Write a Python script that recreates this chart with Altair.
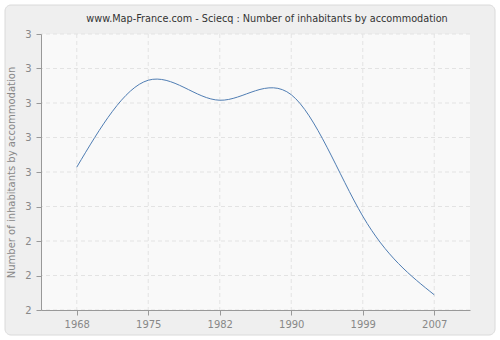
import altair as alt
import pandas as pd

years = ["1968", "1975", "1982", "1990", "1999", "2007"]
values = [2.557, 2.683, 2.654, 2.662, 2.486, 2.372]
y_ticks = [2.35, 2.40, 2.45, 2.50, 2.55, 2.60, 2.65, 2.70, 2.75]

title_text = "www.Map-France.com - Sciecq : Number of inhabitants by accommodation"
y_title = "Number of inhabitants by accommodation"

df = pd.DataFrame({"year": years, "value": values})
ticks_df = pd.DataFrame({"value": y_ticks})
years_df = pd.DataFrame({"year": years})
one = pd.DataFrame({"a": [0]})

W, H = 429, 276
FONT = "DejaVu Sans"
xscale = alt.Scale(type="point", padding=0.5, domain=years)
yscale = alt.Scale(domain=[2.35, 2.75], zero=False, nice=False)

axis_common = dict(
    domainColor="#999999", tickColor="#999999", tickSize=5,
    labelColor="#888888", labelFont=FONT, labelFontSize=10,
    grid=False, zindex=1,
)
x_axis = alt.Axis(title=None, labelAngle=0, labelPadding=4, **axis_common)
y_axis = alt.Axis(values=y_ticks, labelExpr="format(datum.value, '.0f')",
                  title=y_title, titleColor="#888888", titleFont=FONT,
                  titleFontSize=10, titleFontWeight="normal",
                  titlePadding=8, labelPadding=5, **axis_common)

frame = alt.Chart(one).mark_rect(
    fill="#efefef", stroke="#dadada", cornerRadius=6, clip=False
).encode(x=alt.value(-36), x2=alt.value(454), y=alt.value(-29), y2=alt.value(301))

plotbg = alt.Chart(one).mark_rect(fill="#f9f9f9").encode(
    x=alt.value(0), x2=alt.value(W), y=alt.value(0), y2=alt.value(H)
)

title = alt.Chart(one).mark_text(
    font=FONT, fontSize=9.7, color="#333333", align="center", baseline="alphabetic", clip=False
).encode(x=alt.value(226), y=alt.value(-12), text=alt.value(title_text))

hgrid = alt.Chart(ticks_df).mark_rule(stroke="#e3e3e3", strokeDash=[4, 3]).encode(
    y=alt.Y("value:Q", scale=yscale, axis=y_axis)
)
vgrid = alt.Chart(years_df).mark_rule(stroke="#e3e3e3", strokeDash=[4, 3]).encode(
    x=alt.X("year:O", scale=xscale, axis=x_axis)
)

line = alt.Chart(df).mark_line(
    interpolate="natural", color="#4f7db3", strokeWidth=1
).encode(
    x=alt.X("year:O", scale=xscale, axis=x_axis),
    y=alt.Y("value:Q", scale=yscale, axis=y_axis),
)

chart = alt.layer(frame, plotbg, title, hgrid, vgrid, line).properties(
    width=W, height=H,
    padding={"left": 41, "top": 34, "right": 30, "bottom": 30},
    autosize=alt.AutoSizeParams(type="none"),
    background="white",
).configure_view(stroke=None)

chart.save("out.html", embed_options={"renderer": "svg", "actions": False})
